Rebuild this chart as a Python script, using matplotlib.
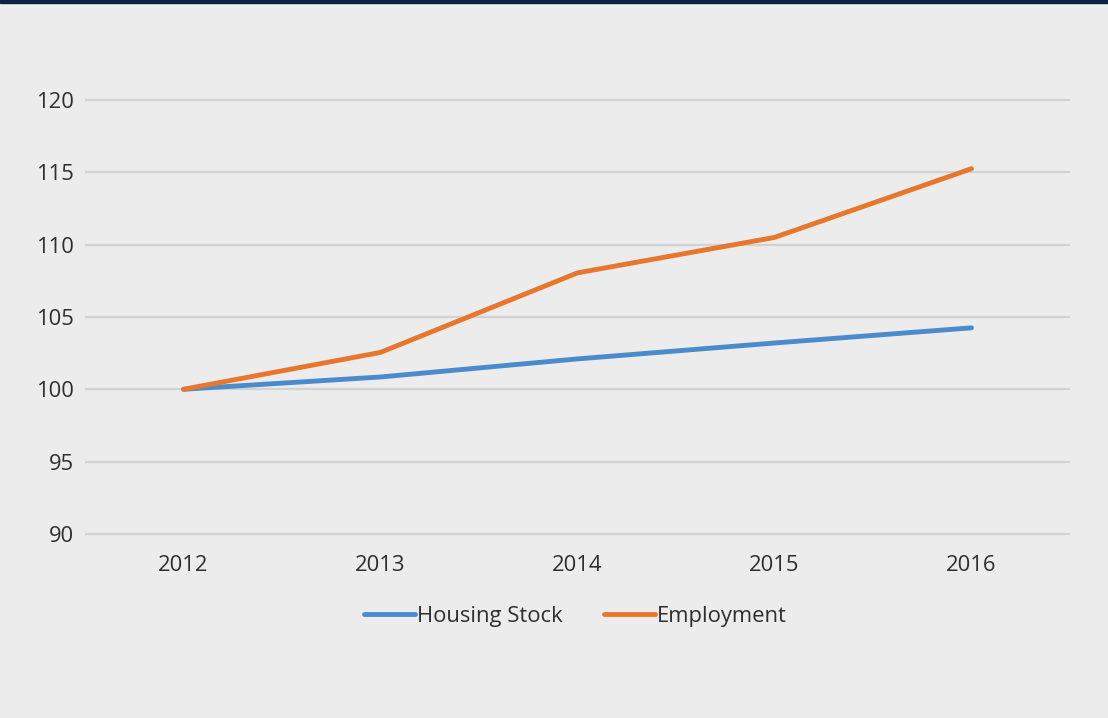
import matplotlib
matplotlib.use('Agg')
import matplotlib.pyplot as plt
from matplotlib.patches import Rectangle

years = ['2012', '2013', '2014', '2015', '2016']
housing_stock = [100.0, 100.85, 102.1, 103.2, 104.25]
employment = [100.0, 102.55, 108.05, 110.5, 115.25]
y_ticks = [90, 95, 100, 105, 110, 115, 120]

BG = '#ececec'
BLUE = '#4a8bcb'
ORANGE = '#e8772e'

plt.rcParams['font.family'] = ['Open Sans', 'DejaVu Sans']

fig = plt.figure(figsize=(11.08, 7.18), dpi=100, facecolor=BG)
ax = fig.add_axes([85 / 1108, 0.2463, 985 / 1108, 0.6245])
ax.set_facecolor(BG)

x = range(len(years))
ax.plot(x, housing_stock, color=BLUE, lw=3.5, solid_capstyle='round', label='Housing Stock', zorder=3)
ax.plot(x, employment, color=ORANGE, lw=3.5, solid_capstyle='round', label='Employment', zorder=3)

ax.set_xlim(-0.5, len(years) - 0.5)
ax.set_ylim(89.5, 120.5)
ax.set_yticks(y_ticks)
ax.set_xticks(list(x))
ax.set_xticklabels(years)
ax.grid(axis='y', color='#d2d2d2', lw=1.6)
ax.set_axisbelow(True)
for s in ax.spines.values():
    s.set_visible(False)
ax.tick_params(length=0, labelsize=15.8, colors='#2e2e2e')
ax.tick_params(axis='y', pad=8)
ax.tick_params(axis='x', pad=10)

leg = ax.legend(loc='upper center', bbox_to_anchor=(0.498, -0.1), ncol=2, frameon=False,
                fontsize=15.8, handlelength=2.3, handletextpad=0.1, columnspacing=1.9)
for t in leg.get_texts():
    t.set_color('#2e2e2e')

# dark rule along the top edge
fig.patches.append(Rectangle((0, 1 - 3 / 718), 1, 3 / 718, transform=fig.transFigure,
                             color='#0b2342', zorder=10))

fig.savefig('out.png', dpi=100, facecolor=BG)
